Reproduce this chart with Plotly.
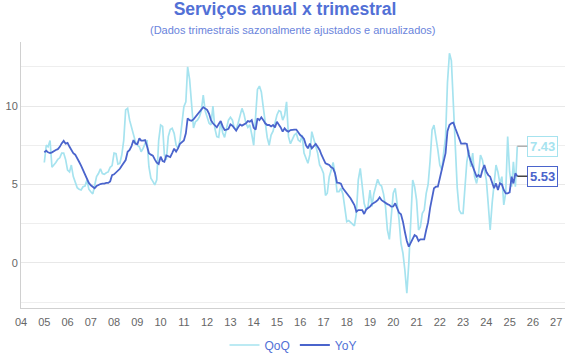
import pandas as pd
import plotly.graph_objects as go

# ---- data (monthly, Jan 2005 .. May 2025) ----
start_month = "2005-01-01"

yoy = [
    # 2005
    7.05, 7.15, 7.05, 7.0, 7.05, 7.15, 7.2, 7.25, 7.4, 7.62, 7.79, 7.6,
    # 2006
    7.65, 7.4, 7.2, 7.0, 6.9, 6.7, 6.45, 6.2, 5.92, 5.65, 5.4, 5.1,
    # 2007
    4.95, 4.86, 4.76, 4.9, 4.97, 5.03, 5.05, 5.05, 5.1, 5.1, 5.2, 5.6,
    # 2008
    5.65, 5.75, 5.9, 6.0, 6.2, 6.4, 6.56, 7.09, 7.2, 7.45, 7.83, 7.6,
    # 2009
    7.57, 7.94, 7.8, 7.8, 7.83, 7.45, 6.99, 6.9, 6.84, 6.6, 6.39, 6.3,
    # 2010
    6.77, 6.5, 6.45, 6.85, 6.8, 6.75, 7.0, 7.28, 7.1, 7.3, 7.6, 7.73,
    # 2011
    7.8, 8.26, 9.21, 9.1, 9.06, 9.15, 9.3, 9.5, 9.64, 9.8, 9.92, 9.85,
    # 2012
    9.75, 9.5, 9.1, 8.9, 8.8, 8.64, 8.85, 9.04, 8.7, 8.47, 8.5, 8.55,
    # 2013
    8.83, 8.75, 8.6, 8.43, 8.64, 8.83, 8.75, 8.83, 8.9, 9.04, 9.0, 9.1,
    # 2014
    8.62, 8.5, 9.21, 9.1, 9.28, 9.1, 8.9, 8.79, 8.79, 8.7, 8.79, 8.64,
    # 2015
    9.0, 8.8, 8.64, 8.37, 8.58, 8.43, 8.37, 8.47, 8.5, 8.5, 8.5, 8.3,
    # 2016
    8.15, 8.05, 7.9, 7.5, 7.3, 7.6, 7.3, 7.45, 7.58, 7.4, 7.2, 6.88,
    # 2017
    6.56, 6.35, 6.3, 6.24, 6.1, 6.03, 5.71, 5.12, 5.1, 5.05, 4.76, 4.6,
    # 2018
    4.44, 4.3, 4.12, 3.9, 3.69, 3.27, 3.37, 3.37, 3.37, 3.12, 3.4, 3.5,
    # 2019
    3.59, 3.75, 3.8, 3.9, 4.0, 4.18, 4.0, 3.9, 3.84, 3.75, 3.69, 3.59,
    # 2020
    3.6, 3.8, 3.5, 3.2, 3.1, 2.63, 1.99, 1.4, 1.04, 1.3, 1.6, 1.78,
    # 2021
    1.7, 1.4, 1.5, 1.5, 1.5, 2.1, 2.6, 3.5, 4.2, 4.76, 4.86, 4.86,
    # 2022
    5.4, 6.0, 6.35, 7.0, 8.4, 8.79, 8.9, 8.94, 8.58, 8.26, 7.9, 7.6,
    # 2023
    7.6, 7.62, 7.58, 6.88, 6.5, 6.2, 5.8, 5.5, 5.6, 5.45, 5.92, 6.24,
    # 2024
    5.81, 5.6, 5.5, 5.07, 4.76, 5.07, 4.65, 5.07, 5.0, 4.65, 4.44, 4.44,
    # 2025
    4.5, 5.5, 5.07, 5.71, 5.53,
]

qoq = [
    # 2005
    6.4, 7.5, 7.4, 7.8, 6.1, 6.24, 6.4, 6.6, 6.7, 7.0, 7.0, 6.6,
    # 2006
    5.92, 5.8, 6.24, 5.5, 5.2, 4.8, 4.7, 4.65, 4.86, 4.9, 5.29, 4.7,
    # 2007
    4.54, 4.4, 4.9, 5.5, 5.7, 6.0, 5.7, 5.65, 5.75, 5.8, 6.1, 6.2,
    # 2008
    7.0, 6.96, 6.3, 6.35, 6.88, 7.83, 9.75, 9.85, 9.1, 8.6, 8.26, 7.73,
    # 2009
    7.5, 7.4, 7.09, 7.3, 7.6, 7.83, 6.13, 5.4, 5.2, 4.97, 5.3, 7.8,
    # 2010
    8.79, 8.7, 6.88, 6.56, 8.05, 8.5, 8.58, 8.26, 7.5, 7.3, 7.83, 9.0,
    # 2011
    9.96, 10.27, 12.5, 11.7, 10.4, 8.6, 9.0, 9.1, 9.3, 9.7, 10.7, 9.7,
    # 2012
    9.3, 8.9, 8.8, 10.0, 8.58, 8.05, 8.0, 9.0, 8.3, 8.0, 8.6, 9.1,
    # 2013
    9.28, 9.1, 8.6, 8.5, 8.9, 9.32, 9.85, 9.5, 8.9, 8.64, 8.8, 8.2,
    # 2014
    7.5, 9.4, 11.06, 11.27, 10.9, 9.9, 8.8, 8.0, 7.5, 8.15, 8.4, 8.9,
    # 2015
    9.43, 9.7, 9.64, 9.1, 9.4, 10.27, 8.05, 7.6, 7.94, 8.15, 8.26, 7.83,
    # 2016
    7.73, 8.15, 7.0, 6.67, 6.35, 6.9, 8.37, 7.9, 7.4, 7.0, 6.24, 6.03,
    # 2017
    5.71, 4.3, 4.44, 5.5, 5.9, 6.4, 5.7, 4.54, 4.54, 4.76, 4.4, 3.38,
    # 2018
    2.63, 2.7, 2.6, 2.45, 2.36, 3.16, 5.29, 6.03, 5.0, 3.8, 3.38, 3.6,
    # 2019
    4.65, 3.6, 4.4, 4.8, 5.33, 5.0, 4.9, 4.4, 3.6, 2.1, 1.5, 3.0,
    # 2020
    4.44, 4.76, 3.8, 2.74, 1.25, 0.62, -0.45, -1.93, 0.0, 3.0, 5.29, 4.86,
    # 2021
    4.0, 2.1, 2.3, 3.16, 3.37, 4.44, 5.0, 6.5, 8.47, 8.79, 8.05, 7.2,
    # 2022
    6.24, 5.92, 6.99, 8.0, 11.5, 13.36, 12.9, 10.38, 7.0, 4.8, 3.37, 3.16,
    # 2023
    3.16, 5.07, 6.45, 7.2, 6.13, 7.0, 5.5, 5.07, 5.71, 6.88, 6.56, 5.92,
    # 2024
    5.29, 3.69, 2.1, 3.8, 5.0, 6.24, 5.8, 5.07, 5.5, 3.7, 4.5, 8.05,
    # 2025
    5.8, 4.86, 6.45, 4.86, 7.43,
]

tick_years = list(range(2004, 2028))
tick_labels = [f"{y % 100:02d}" for y in tick_years]

# ---- style ----
QOQ_COLOR = "#a6e3ef"
YOY_COLOR = "#4a64cc"
TITLE_COLOR = "#5270d6"
FONT = "Liberation Sans, Arial, Helvetica, sans-serif"

dates = pd.date_range(start_month, periods=len(yoy), freq="MS")

fig = go.Figure()
fig.add_trace(go.Scatter(x=dates, y=qoq, mode="lines", name="QoQ",
                         line=dict(color=QOQ_COLOR, width=1.7)))
fig.add_trace(go.Scatter(x=dates, y=yoy, mode="lines", name="YoY",
                         line=dict(color=YOY_COLOR, width=1.8)))

fig.update_layout(
    width=570, height=360,
    margin=dict(l=21, r=5, t=42, b=52, autoexpand=False),
    paper_bgcolor="white", plot_bgcolor="white",
    font=dict(family=FONT, size=11, color="#666666"),
    title=dict(text="<b>Serviços anual x trimestral</b>", x=0.5, xanchor="center",
               yref="container", y=1 - 3 / 360, yanchor="top",
               font=dict(size=17.5, color=TITLE_COLOR, family=FONT)),
    showlegend=True,
    legend=dict(orientation="h", x=0.5, xanchor="center",
                yref="container", y=(360 - 345) / 360, yanchor="middle",
                font=dict(size=12, color=TITLE_COLOR), itemwidth=30,
                bgcolor="rgba(0,0,0,0)"),
    annotations=[
        dict(text="(Dados trimestrais sazonalmente ajustados e anualizados)",
             xref="paper", yref="paper", x=0.5, y=1 + 12 / 266, xanchor="center",
             yanchor="middle", showarrow=False,
             font=dict(size=11, color="#6a84dc", family=FONT)),
        dict(x=dates[-1], y=qoq[-1], xref="x", yref="y", text=f"<b>{qoq[-1]:.2f}</b>",
             showarrow=True, arrowhead=0, arrowwidth=1.5, arrowcolor="#b0b0b0",
             ax=10, ay=0, xanchor="left", bgcolor="white", bordercolor=QOQ_COLOR,
             borderwidth=1, borderpad=2, font=dict(size=13, color=QOQ_COLOR, family=FONT)),
        dict(x=dates[-1], y=yoy[-1], xref="x", yref="y", text=f"<b>{yoy[-1]:.2f}</b>",
             showarrow=True, arrowhead=0, arrowwidth=1.5, arrowcolor="#444444",
             ax=10, ay=0, xanchor="left", bgcolor="white", bordercolor=YOY_COLOR,
             borderwidth=1, borderpad=2, font=dict(size=13, color=YOY_COLOR, family=FONT)),
    ],
)

fig.update_xaxes(
    type="date", automargin=False,
    range=["2004-01-01", "2027-05-20"],
    tickvals=[f"{y}-01-01" for y in tick_years],
    ticktext=tick_labels,
    showgrid=False, zeroline=False,
    showline=True, linecolor="#d0d0d0", linewidth=1,
    ticks="", ticklabelstandoff=4, tickfont=dict(size=11, color="#666666"),
)
fig.update_yaxes(
    automargin=False,
    range=[-2.87, 14.08],
    tickmode="linear", tick0=0, dtick=5,
    showgrid=True, gridcolor="#e8e8e8", gridwidth=1,
    minor=dict(tickmode="linear", tick0=0, dtick=2.5, showgrid=True,
               gridcolor="#eeeeee", gridwidth=1),
    zeroline=False,
    showline=True, linecolor="#d0d0d0", linewidth=1,
    ticks="", tickfont=dict(size=11, color="#666666"),
)

fig.write_html("out.html",
               config={"displayModeBar": False},
               post_script="document.body.style.margin='0px';document.body.style.overflow='hidden';")
